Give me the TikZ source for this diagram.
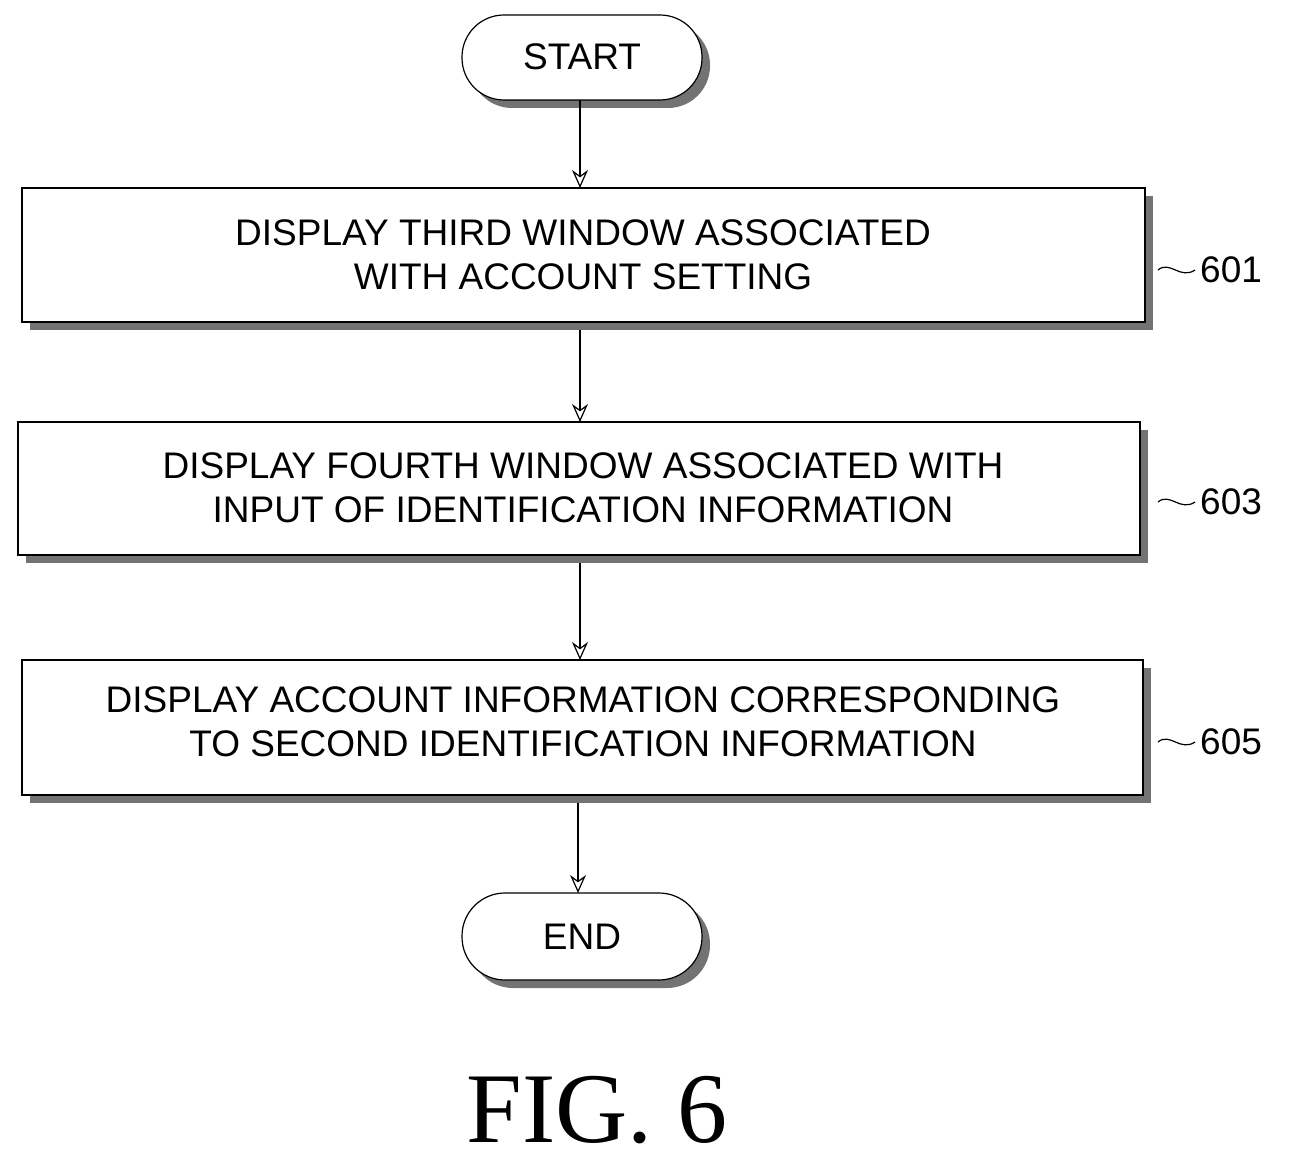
\documentclass[tikz,border=0pt]{standalone}
\usetikzlibrary{arrows.meta}
\usepackage{fontspec}
\setmainfont{Liberation Serif}
\newfontfamily\boxfont{Liberation Sans}
\begin{document}
\begin{tikzpicture}[x=1pt,y=-1pt,
  shadowc/.style={fill=black!55},
  box/.style={draw=black,line width=1.2pt,fill=white},
  txt/.style={font=\boxfont\fontsize{37}{44}\selectfont,align=center,inner sep=0pt},
  arr/.style={draw=black,line width=1.2pt,-{Stealth[length=18pt,width=16pt,open]}},
  lbl/.style={font=\boxfont\fontsize{37}{44}\selectfont,inner sep=0pt}]
\useasboundingbox (0,0) rectangle (1292,1174);
% shadows
\fill[shadowc,rounded corners=42pt] (470,23) rectangle (710,108);
\fill[shadowc] (30,196) rectangle (1153,330);
\fill[shadowc] (26,430) rectangle (1148,563);
\fill[shadowc] (30,668) rectangle (1151,803);
\fill[shadowc,rounded corners=43pt] (470,901) rectangle (710,988);
% shapes
\draw[box,rounded corners=42pt] (462,15) rectangle (702,100);
\node[txt] (start) at (582,57) {START};
\draw[box] (22,188) rectangle (1145,322);
\node[txt] (b601) at (583,255) {DISPLAY THIRD WINDOW ASSOCIATED\\WITH ACCOUNT SETTING};
\draw[box] (18,422) rectangle (1140,555);
\node[txt] (b603) at (583,488) {DISPLAY FOURTH WINDOW ASSOCIATED WITH\\INPUT OF IDENTIFICATION INFORMATION};
\draw[box] (22,660) rectangle (1143,795);
\node[txt] (b605) at (583,722) {DISPLAY ACCOUNT INFORMATION CORRESPONDING\\TO SECOND IDENTIFICATION INFORMATION};
\draw[box,rounded corners=43pt] (462,893) rectangle (702,980);
\node[txt] (endn) at (582,937) {END};
% anchors for connectors
\coordinate (s) at (580,100); \coordinate (t1) at (580,188);
\coordinate (s1) at (580,330); \coordinate (t2) at (580,422);
\coordinate (s2) at (580,563); \coordinate (t3) at (580,660);
\coordinate (s3) at (578,803); \coordinate (t4) at (578,893);
\draw[arr] (s) -- (t1);
\draw[arr] (s1) -- (t2);
\draw[arr] (s2) -- (t3);
\draw[arr] (s3) -- (t4);
% labels
\node[lbl,anchor=west] (l601) at (1200,270) {601};
\node[lbl,anchor=west] (l603) at (1200,502) {603};
\node[lbl,anchor=west] (l605) at (1200,742) {605};
\foreach \y/\n in {270/l601,502/l603,742/l605}
  \draw[line width=1.2pt] (1158,\y) .. controls (1170,\y-10) and (1180,\y+10) .. (1195,\y);
\node[font=\fontsize{100}{110}\selectfont,inner sep=0pt] (fig) at (597,1110) {FIG. 6};
\end{tikzpicture}
\end{document}
